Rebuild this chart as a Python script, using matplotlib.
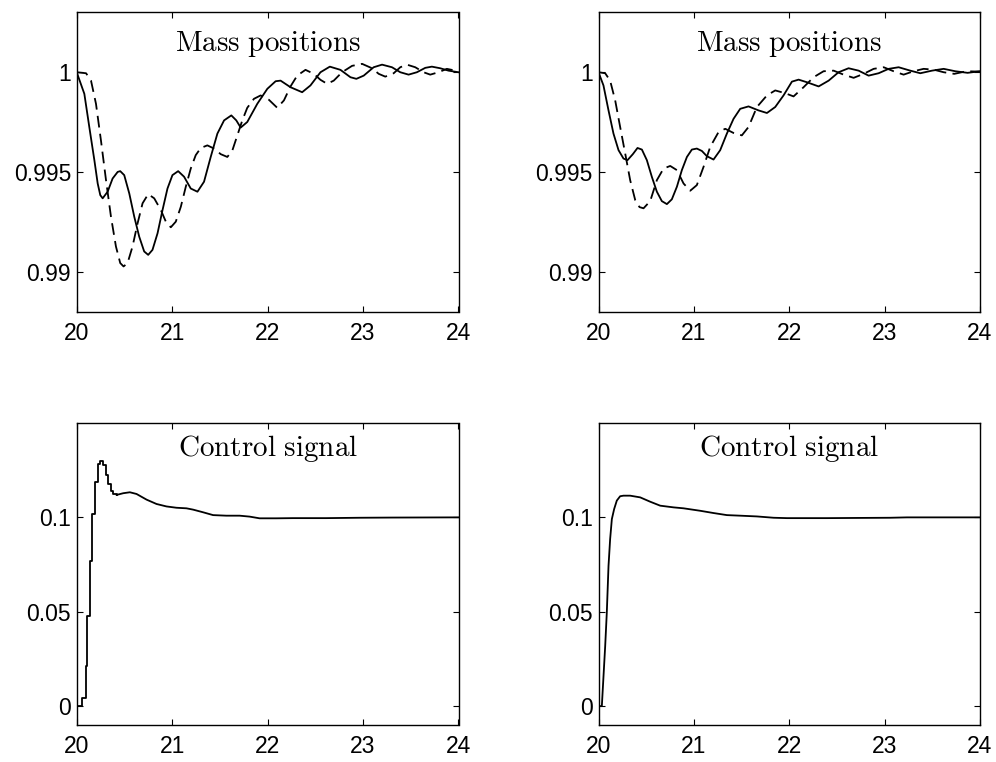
import matplotlib
matplotlib.use("Agg")
import matplotlib.pyplot as plt

plt.rcParams['font.family'] = ['Liberation Sans', 'DejaVu Sans']
plt.rcParams['mathtext.fontset'] = 'cm'

# ---------------- data ----------------
# Top-left: mass positions (solid / dashed)
tl_solid_x = [20.0, 20.080, 20.132, 20.185, 20.220, 20.247, 20.272, 20.324, 20.376, 20.429,
              20.456, 20.498, 20.551, 20.603, 20.655, 20.707, 20.749, 20.794, 20.847, 20.899,
              20.951, 21.003, 21.063, 21.125, 21.195, 21.265, 21.334, 21.404, 21.474, 21.544,
              21.620, 21.672, 21.718, 21.787, 21.892, 21.997, 22.084, 22.136, 22.240, 22.362,
              22.449, 22.554, 22.652, 22.763, 22.868, 22.930, 23.007, 23.111, 23.199, 23.303,
              23.390, 23.477, 23.564, 23.652, 23.721, 23.808, 23.895, 24.0]
tl_solid_y = [1.0, 0.99892, 0.99726, 0.99560, 0.99443, 0.99385, 0.99369, 0.99402, 0.99468, 0.99501,
              0.99505, 0.99485, 0.99393, 0.99277, 0.99177, 0.99103, 0.99086, 0.99111, 0.99194, 0.99310,
              0.99418, 0.99485, 0.99505, 0.99477, 0.99418, 0.99402, 0.99452, 0.99576, 0.99693, 0.99759,
              0.99784, 0.99759, 0.99723, 0.99751, 0.99842, 0.99917, 0.99955, 0.99958, 0.99925, 0.99900,
              0.99934, 1.00000, 1.00028, 1.00012, 0.99975, 0.99967, 0.99983, 1.00025, 1.00038, 1.00025,
              1.00000, 0.99988, 1.00000, 1.00022, 1.00028, 1.00020, 1.00008, 1.00000]

tl_dash_x = [20.0, 20.098, 20.150, 20.202, 20.254, 20.307, 20.359, 20.411, 20.456, 20.491,
             20.533, 20.585, 20.638, 20.690, 20.749, 20.812, 20.882, 20.934, 20.986, 21.038,
             21.091, 21.143, 21.195, 21.247, 21.300, 21.369, 21.439, 21.509, 21.578, 21.631,
             21.683, 21.735, 21.787, 21.857, 21.927, 22.014, 22.101, 22.171, 22.240, 22.310,
             22.397, 22.484, 22.554, 22.624, 22.693, 22.780, 22.885, 22.990, 23.094, 23.164,
             23.233, 23.321, 23.390, 23.460, 23.547, 23.634, 23.704, 23.791, 23.878, 24.0]
tl_dash_y = [1.0, 0.99995, 0.99958, 0.99842, 0.99659, 0.99460, 0.99277, 0.99128, 0.99045, 0.99028,
             0.99045, 0.99128, 0.99244, 0.99344, 0.99390, 0.99369, 0.99310, 0.99252, 0.99224, 0.99252,
             0.99327, 0.99427, 0.99518, 0.99585, 0.99621, 0.99634, 0.99618, 0.99590, 0.99576, 0.99609,
             0.99684, 0.99759, 0.99822, 0.99867, 0.99884, 0.99862, 0.99822, 0.99859, 0.99929, 0.99983,
             1.00012, 0.99992, 0.99962, 0.99942, 0.99958, 1.00000, 1.00032, 1.00042, 1.00020, 0.99992,
             0.99978, 0.99995, 1.00025, 1.00038, 1.00025, 1.00000, 0.99988, 1.00000, 1.00017, 1.00005]

# Top-right: mass positions (solid / dashed)
tr_solid_x = [20.0, 20.052, 20.105, 20.157, 20.210, 20.262, 20.304, 20.360, 20.409, 20.455,
              20.507, 20.559, 20.612, 20.664, 20.717, 20.769, 20.822, 20.874, 20.927, 20.979,
              21.031, 21.084, 21.136, 21.206, 21.276, 21.346, 21.416, 21.486, 21.573, 21.678,
              21.766, 21.853, 21.940, 22.028, 22.098, 22.185, 22.308, 22.413, 22.517, 22.622,
              22.727, 22.832, 22.937, 23.042, 23.147, 23.269, 23.374, 23.497, 23.619, 23.741,
              23.870, 24.0]
tr_solid_y = [1.0, 0.99934, 0.99809, 0.99693, 0.99610, 0.99568, 0.99560, 0.99590, 0.99621, 0.99613,
              0.99560, 0.99477, 0.99402, 0.99355, 0.99340, 0.99364, 0.99427, 0.99510, 0.99576, 0.99613,
              0.99618, 0.99606, 0.99580, 0.99563, 0.99610, 0.99693, 0.99767, 0.99817, 0.99829, 0.99809,
              0.99796, 0.99826, 0.99884, 0.99953, 0.99963, 0.99950, 0.99929, 0.99958, 1.00000, 1.00020,
              1.00008, 0.99983, 0.99995, 1.00017, 1.00025, 1.00008, 0.99995, 1.00008, 1.00017, 1.00005,
              0.99997, 1.00005]

tr_dash_x = [20.0, 20.070, 20.122, 20.175, 20.227, 20.280, 20.332, 20.385, 20.430, 20.472,
             20.542, 20.612, 20.682, 20.752, 20.822, 20.892, 20.962, 21.031, 21.101, 21.171,
             21.259, 21.329, 21.416, 21.503, 21.573, 21.661, 21.766, 21.853, 21.958, 22.045,
             22.150, 22.255, 22.360, 22.465, 22.570, 22.675, 22.780, 22.885, 22.990, 23.094,
             23.199, 23.304, 23.409, 23.514, 23.619, 23.730, 23.860, 24.0]
tr_dash_y = [1.0, 0.99995, 0.99958, 0.99859, 0.99726, 0.99593, 0.99460, 0.99360, 0.99325, 0.99319,
             0.99355, 0.99460, 0.99518, 0.99531, 0.99510, 0.99443, 0.99407, 0.99435, 0.99526, 0.99626,
             0.99701, 0.99717, 0.99696, 0.99684, 0.99726, 0.99826, 0.99884, 0.99909, 0.99895, 0.99879,
             0.99925, 0.99975, 1.00005, 1.00008, 0.99988, 0.99972, 0.99992, 1.00017, 1.00025, 1.00005,
             0.99988, 1.00005, 1.00017, 1.00013, 1.00000, 0.99992, 1.00005, 1.00003]

# Bottom-left: control signal (sampled, staircase start then smooth tail)
bl_x = [20.0, 20.059, 20.094, 20.111, 20.139, 20.164, 20.192, 20.220, 20.244, 20.279,
        20.303, 20.331, 20.355, 20.383, 20.418,
        20.488, 20.557, 20.627, 20.732, 20.836, 20.940, 21.045, 21.150, 21.220, 21.324,
        21.429, 21.568, 21.707, 21.812, 21.916, 22.091, 22.265, 22.613, 22.962, 23.310, 24.0]
bl_y = [0.0, 0.0043, 0.0211, 0.0477, 0.0770, 0.1018, 0.1186, 0.1284, 0.1301, 0.1275,
        0.1222, 0.1177, 0.1142, 0.1124, 0.1119,
        0.1128, 0.1133, 0.1124, 0.1094, 0.1071, 0.1058, 0.1051, 0.1048, 0.1041, 0.1027,
        0.1012, 0.1009, 0.1009, 0.1004, 0.0995, 0.0995, 0.0996, 0.0996, 0.0998, 0.0999, 0.1000]
bl_n_steps = 15  # first points drawn as a staircase

# Bottom-right: control signal (continuous)
br_x = [20.0, 20.035, 20.070, 20.087, 20.105, 20.122, 20.140, 20.164, 20.192, 20.227,
        20.262, 20.332, 20.437, 20.542, 20.647, 20.787, 20.892, 21.066, 21.206, 21.346,
        21.486, 21.661, 21.836, 21.976, 22.185, 22.395, 22.710, 23.059, 23.234, 23.794, 24.0]
br_y = [0.0, 0.0, 0.0317, 0.0495, 0.0743, 0.0885, 0.0991, 0.1044, 0.1089, 0.1112,
        0.1115, 0.1115, 0.1106, 0.1083, 0.1062, 0.1053, 0.1048, 0.1035, 0.1023, 0.1012,
        0.1009, 0.1005, 0.0998, 0.0996, 0.0996, 0.0996, 0.0997, 0.0998, 0.1000, 0.1000, 0.1000]

x_ticks = [20, 21, 22, 23, 24]
x_labels = ['20', '21', '22', '23', '24']
mass_ticks = [0.99, 0.995, 1.0]
mass_labels = ['0.99', '0.995', '1']
ctrl_ticks = [0.0, 0.05, 0.1]
ctrl_labels = ['0', '0.05', '0.1']
mass_title = r'$\mathrm{Mass\ positions}$'
ctrl_title = r'$\mathrm{Control\ signal}$'

# ---------------- figure ----------------
fig = plt.figure(figsize=(9.96, 7.62), dpi=100)
W, H = 996.0, 762.0

def make_ax(x0, x1, y0, y1):
    return fig.add_axes([x0 / W, 1 - y1 / H, (x1 - x0) / W, (y1 - y0) / H])

ax_tl = make_ax(76.7, 458.5, 12.3, 312.0)
ax_tr = make_ax(598.5, 980.0, 12.3, 312.0)
ax_bl = make_ax(76.7, 458.5, 423.0, 725.0)
ax_br = make_ax(598.5, 980.0, 423.0, 725.0)

lw = 1.3
dash = (0, (6.5, 3.5))

ax_tl.plot(tl_solid_x, tl_solid_y, color='black', lw=lw)
ax_tl.plot(tl_dash_x, tl_dash_y, color='black', lw=lw, linestyle=dash)
ax_tr.plot(tr_solid_x, tr_solid_y, color='black', lw=lw)
ax_tr.plot(tr_dash_x, tr_dash_y, color='black', lw=lw, linestyle=dash)

ax_bl.plot(bl_x[:bl_n_steps], bl_y[:bl_n_steps], color='black', lw=lw, drawstyle='steps-post')
ax_bl.plot(bl_x[bl_n_steps - 1:], bl_y[bl_n_steps - 1:], color='black', lw=lw)
ax_br.plot(br_x, br_y, color='black', lw=lw)

for ax in (ax_tl, ax_tr):
    ax.set_ylim(0.988, 1.003)
    ax.set_yticks(mass_ticks)
    ax.set_yticklabels(mass_labels)
    ax.text(0.5, 0.87, mass_title, transform=ax.transAxes, ha='center', va='baseline',
            fontsize=21)
for ax in (ax_bl, ax_br):
    ax.set_ylim(-0.01, 0.15)
    ax.set_yticks(ctrl_ticks)
    ax.set_yticklabels(ctrl_labels)
    ax.text(0.5, 0.89, ctrl_title, transform=ax.transAxes, ha='center', va='baseline',
            fontsize=21)

for ax in (ax_tl, ax_tr, ax_bl, ax_br):
    ax.set_xlim(20, 24)
    ax.set_xticks(x_ticks)
    ax.set_xticklabels(x_labels)
    ax.tick_params(direction='in', length=4, width=0.8, top=True, right=True,
                   labelsize=16.5)
    ax.tick_params(axis='x', pad=7)
    ax.tick_params(axis='y', pad=4)
    for s in ax.spines.values():
        s.set_linewidth(1.0)

fig.savefig('out.png', dpi=100)
